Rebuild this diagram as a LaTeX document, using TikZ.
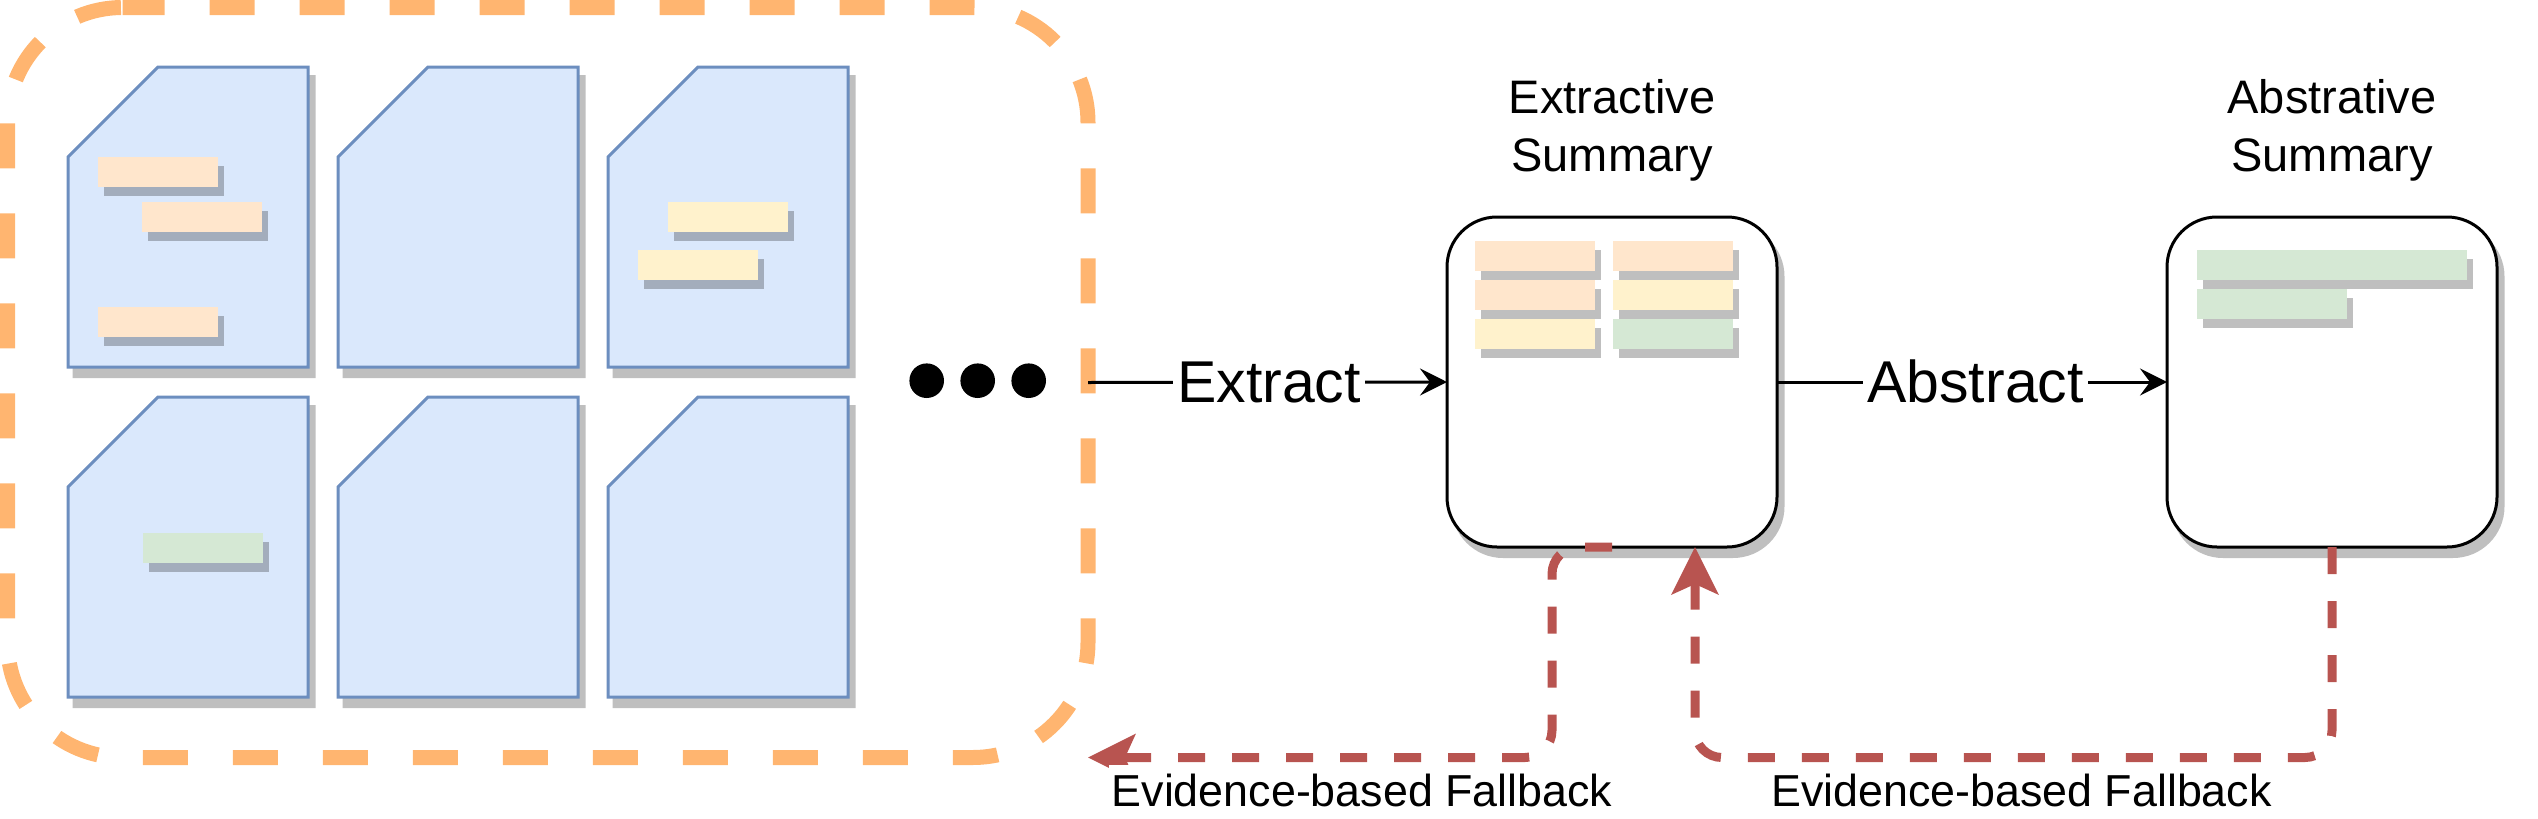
\documentclass[tikz,border=0pt]{standalone}
\usepackage{fontspec}
\setmainfont{Liberation Sans}
\usetikzlibrary{arrows.meta,shadows}
\definecolor{pileC}{HTML}{FFB570}
\definecolor{docFill}{HTML}{DAE8FC}
\definecolor{docLine}{HTML}{6C8EBF}
\definecolor{shadeC}{HTML}{BFBFBF}
\definecolor{barO}{HTML}{FFE6CC}
\definecolor{barY}{HTML}{FFF2CC}
\definecolor{barG}{HTML}{D5E8D4}
\definecolor{backC}{HTML}{B85450}
\tikzset{
  x=1pt,y=-1pt,
  bar/.style={anchor=north west,inner sep=0pt,outer sep=0pt,minimum width=120pt,minimum height=30pt,
    drop shadow={shadow xshift=6pt,shadow yshift=-9pt,fill=black,opacity=.25}},
  sumbox/.style={draw=black,line width=3pt,fill=white,rounded corners=50pt,inner sep=0pt,outer sep=0pt,
    minimum width=330pt,minimum height=330pt},
  sumshade/.style={draw=shadeC,fill=shadeC,line width=3pt,rounded corners=50pt,inner sep=0pt,outer sep=0pt,
    minimum width=330pt,minimum height=330pt},
  dotmark/.style={circle,fill=black,inner sep=0pt,outer sep=0pt,minimum size=34.6pt},
  forward/.style={draw=black,line width=3pt,-{Stealth[length=27pt,width=27pt,inset=10pt]}},
  backward/.style={draw=backC,line width=9pt,dash pattern=on 27pt off 27pt,rounded corners=27pt,
    -{Stealth[length=47pt,width=46pt,inset=10pt]}},
  steplabel/.style={fill=white,anchor=base,inner xsep=4pt,inner ysep=6pt,font=\fontsize{59}{59}\selectfont},
  title/.style={anchor=base,align=center,inner sep=0pt,font=\fontsize{47}{57.5}\selectfont},
  fallback/.style={fill=white,anchor=base,inner xsep=3pt,inner ysep=0pt,text height=41pt,text depth=10pt,
    font=\fontsize{44.8}{44.8}\selectfont},
}
\newcommand{\docpage}[2]{%
  \begin{scope}[shift={(#1,#2)}]
    \draw[draw=shadeC,fill=shadeC,line width=3pt,miter limit=10] (6,99.5) -- (96,9.5) -- (246,9.5) -- (246,309.5) -- (6,309.5) -- cycle;
    \draw[draw=docLine,fill=docFill,line width=3pt] (0,90) -- (90,0) -- (240,0) -- (240,300) -- (0,300) -- cycle;
  \end{scope}}
\begin{document}
\begin{tikzpicture}
\useasboundingbox (0,0) rectangle (2538,819);
% container
\node[inner sep=0pt,outer sep=0pt,minimum width=1080.5pt,minimum height=750pt] (pile) at (547.75,382.5) {};
\draw[draw=pileC,line width=15pt,dash pattern=on 45pt off 45pt,dash phase=3pt,rounded corners=115pt]
  (122.5,7.5) -- (1088,7.5) -- (1088,757.5) -- (7.5,757.5) -- (7.5,7.5) -- (122.5,7.5);
% pages
\docpage{68}{67}
\docpage{338}{67}
\docpage{608}{67}
\docpage{68}{397}
\docpage{338}{397}
\docpage{608}{397}
% highlighted sentences in the pages
\node[bar,fill=barO] (p1) at (97.6,157) {};
\node[bar,fill=barO] (p2) at (142.4,202) {};
\node[bar,fill=barO] (p3) at (97.6,307) {};
\node[bar,fill=barY] (p4) at (667.6,202) {};
\node[bar,fill=barY] (p5) at (637.8,250) {};
\node[bar,fill=barG] (p6) at (142.5,532.5) {};
% dots
\node[dotmark] (dot1) at (926.7,380.7) {};
\node[dotmark] (dot2) at (977.7,380.7) {};
\node[dotmark] (dot3) at (1028.7,380.7) {};
% summary boxes
\node[sumshade] at (1618,391.5) {};
\node[sumshade] at (2338,391.5) {};
\node[sumbox] (ext) at (1612,382) {};
\node[sumbox] (abs) at (2332,382) {};
\node[title] at (1612,171) {Extractive\\Summary};
\node[title] at (2332,171) {Abstrative\\Summary};
% bars in extractive summary
\node[bar,fill=barO] (e1) at (1474.5,241) {};
\node[bar,fill=barO] (e2) at (1612.5,241) {};
\node[bar,fill=barO] (e3) at (1474.5,280) {};
\node[bar,fill=barY] (e4) at (1612.5,280) {};
\node[bar,fill=barY] (e5) at (1474.5,319) {};
\node[bar,fill=barG] (e6) at (1612.5,319) {};
% bars in abstractive summary
\node[bar,fill=barG,minimum width=270pt] (a1) at (2197,250) {};
\node[bar,fill=barG,minimum width=150pt] (a2) at (2197,289) {};
% forward connectors
\draw[forward] (pile.east) -- (ext.west);
\draw[forward] (ext.east) -- (abs.west);
\node[steplabel] (lx) at (1269,402) {Extract};
\node[steplabel] (la) at (1975.5,402) {Abstract};
% fallback connectors
\coordinate (c1) at (1552,547);
\coordinate (c2) at (1552,757.5);
\coordinate (c3) at (2332,757.5);
\coordinate (c4) at (1695,757.5);
\coordinate (c5) at (1695,547);
\draw[backward] (ext.south) -- (c1) -- (c2) -- (pile.south east);
\draw[backward] (abs.south) -- (c3) -- (c4) -- (c5);
\node[fallback] (f1) at (1362,806) {Evidence-based Fallback};
\node[fallback] (f2) at (2021.5,806) {Evidence-based Fallback};
\end{tikzpicture}
\end{document}
